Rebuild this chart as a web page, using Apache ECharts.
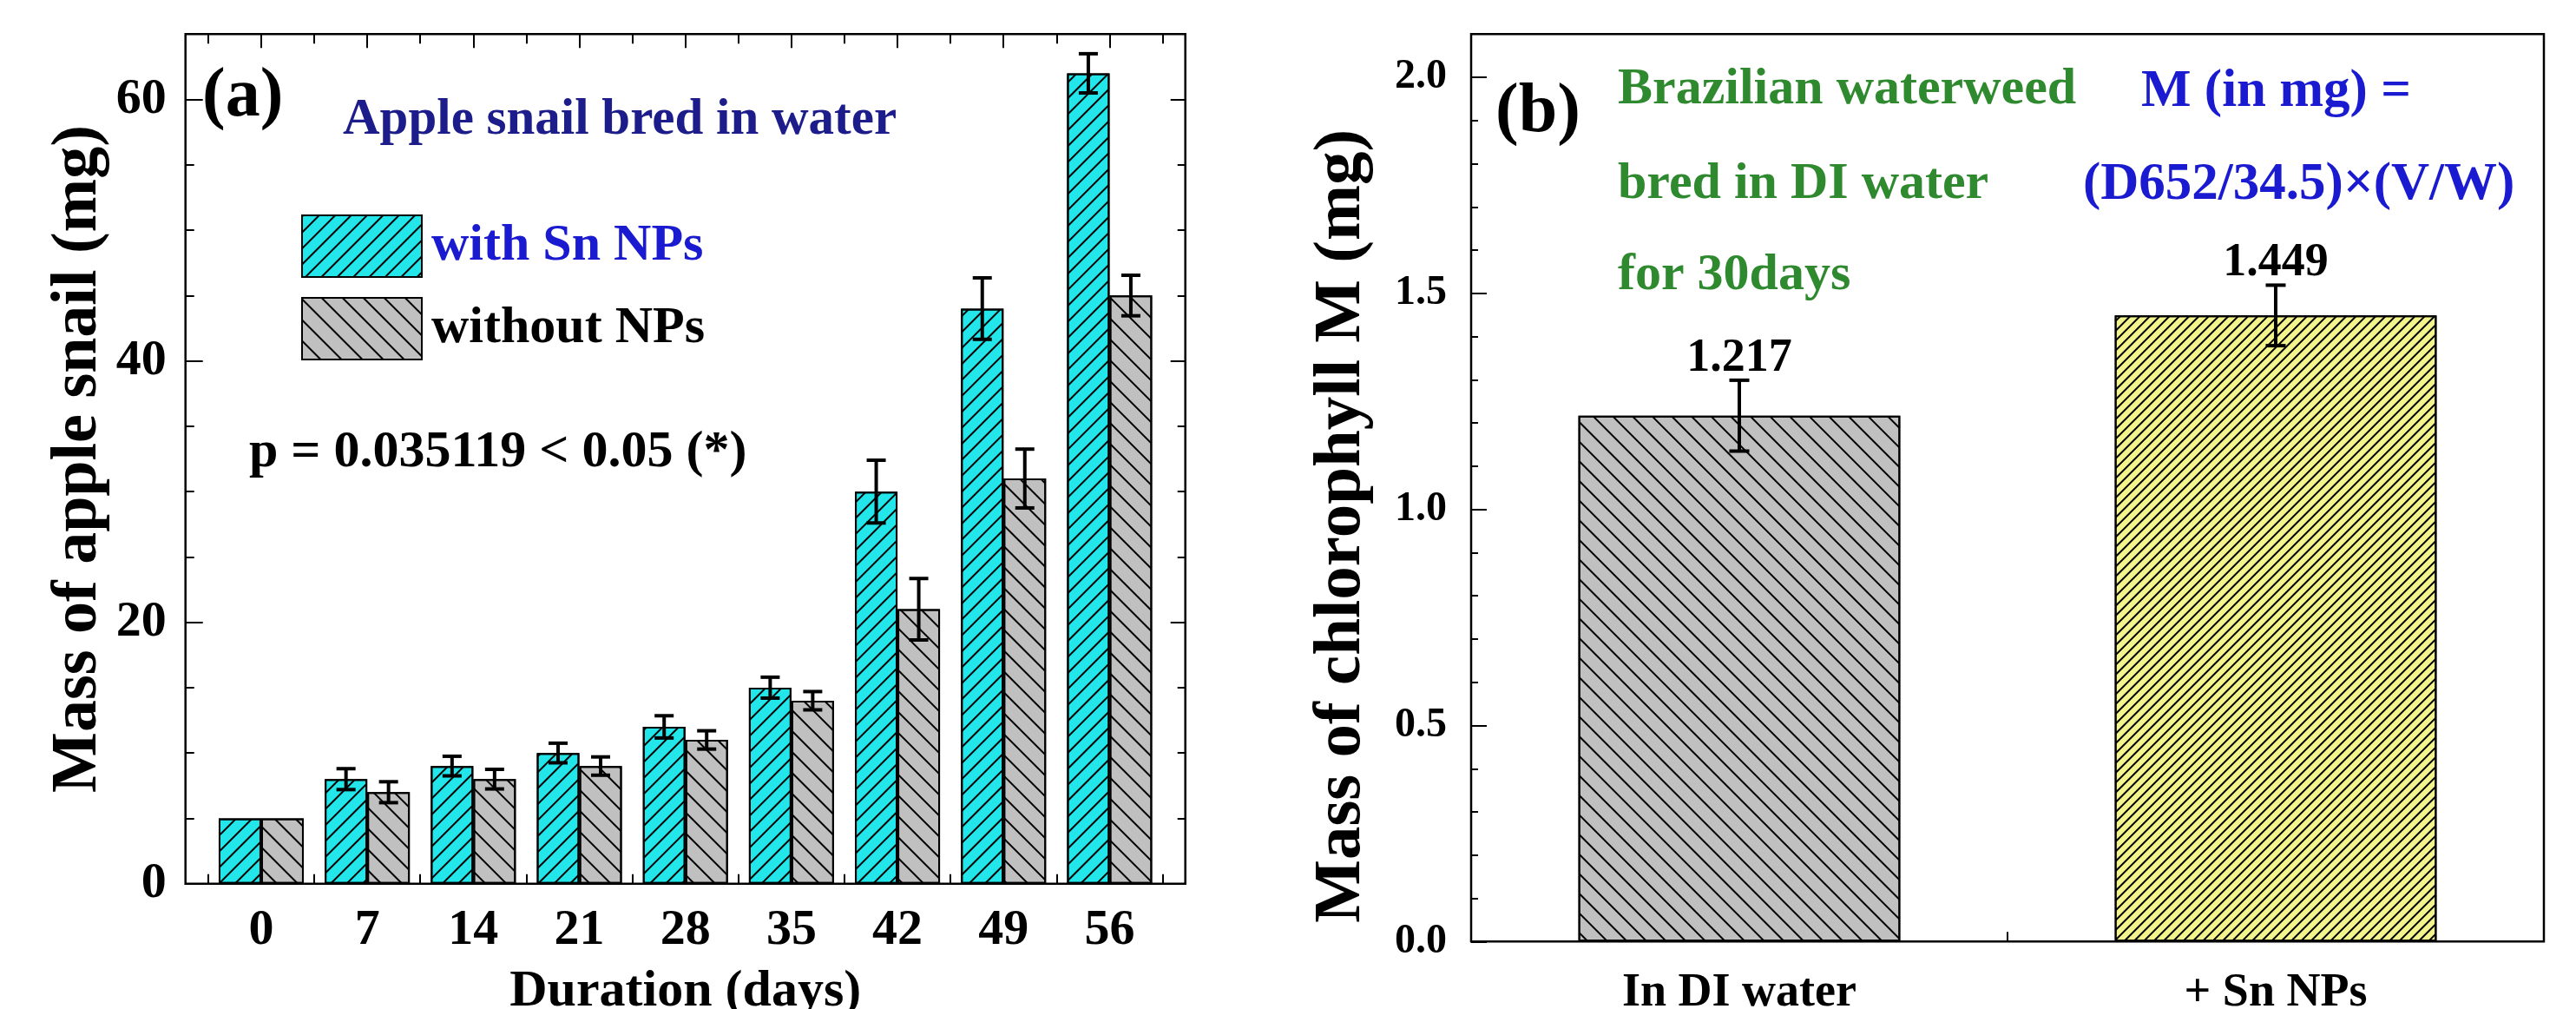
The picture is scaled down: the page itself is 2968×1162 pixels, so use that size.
<!DOCTYPE html>
<html><head><meta charset="utf-8">
<script src="https://cdn.jsdelivr.net/npm/echarts@6/dist/echarts.min.js"></script>
<style>html,body{margin:0;padding:0;background:#fff}#c{width:2968px;height:1162px}</style>
</head><body><div id="c"></div>
<script>
// ---------- data ----------
const days = [0, 7, 14, 21, 28, 35, 42, 49, 56];
const withSn = [5, 8, 9, 10, 12, 15, 30, 44, 62];
const withSnErr = [0, 0.8, 0.75, 0.75, 0.85, 0.8, 2.4, 2.35, 1.5];
const withoutNP = [5, 7, 8, 9, 11, 14, 21, 31, 45];
const withoutNPErr = [0, 0.8, 0.75, 0.7, 0.7, 0.7, 2.35, 2.25, 1.55];
const yTicksA = [0, 20, 40, 60];
const yMinorA = [5, 10, 15, 25, 30, 35, 45, 50, 55];
const xBoundA = [-3.5, 3.5, 10.5, 17.5, 24.5, 31.5, 38.5, 45.5, 52.5, 59.5];
const catsB = ['In DI water', '+ Sn NPs'];
const chlorophyll = [1.217, 1.449];
const chlorophyllErr = [0.082, 0.070];
const yTicksB = [0, 0.5, 1.0, 1.5, 2.0];
const yMinorB = [0.1,0.2,0.3,0.4,0.6,0.7,0.8,0.9,1.1,1.2,1.3,1.4,1.6,1.7,1.8,1.9];

// ---------- styles ----------
const F = '"Liberation Serif","Times New Roman",serif';
const BLK = '#000';
const CYAN = '#22e6ea', GRAY = '#c0c0c0', YELLOW = '#f4f48c';
const NAVY = '#1c1c8a', BLUE = '#1a1ad0', GREEN = '#2f8a2f';
const BAR_W = 49;
const tickLine = {color: BLK, width: 2};
const noLine = {show: false, onZero: false};

function hatch(dir, gap) {
  return {symbol: 'rect', symbolSize: 1, dashArrayX: [1, 0], dashArrayY: [2, gap],
          rotation: dir === '/' ? -Math.PI / 4 : Math.PI / 4, color: '#000'};
}

function tickAxis(o) {
  return Object.assign({axisLine: noLine, splitLine: {show: false},
    axisLabel: {show: false}}, o);
}

function errRender(offset, cap, withLabel) {
  return function (params, api) {
    const x = api.value(0), y = api.value(1), e = api.value(2);
    if (!e) return null;
    const top = api.coord([x, y + e]);
    const bot = api.coord([x, y - e]);
    const cx = top[0] + offset;
    const ls = {stroke: BLK, lineWidth: 4};
    const children = [
      {type: 'line', shape: {x1: cx, y1: top[1], x2: cx, y2: bot[1]}, style: ls},
      {type: 'line', shape: {x1: cx - cap / 2, y1: top[1], x2: cx + cap / 2, y2: top[1]}, style: ls},
      {type: 'line', shape: {x1: cx - cap / 2, y1: bot[1], x2: cx + cap / 2, y2: bot[1]}, style: ls}
    ];
    if (withLabel) {
      children.push({type: 'text', x: cx, y: top[1] + 2,
        style: {text: y.toFixed(3), fill: BLK, fontFamily: F, fontWeight: 'bold', fontSize: 54,
                align: 'center', verticalAlign: 'bottom'}});
    }
    return {type: 'group', children: children};
  };
}

const chart = echarts.init(document.getElementById('c'), null, {renderer: 'canvas'});
const option = {
  animation: false,
  backgroundColor: '#fff',
  grid: [
    {left: 213.7, top: 39.3, width: 1152, height: 978.4, containLabel: false, outerBoundsMode: 'none',
     show: true, borderColor: BLK, borderWidth: 2.5, backgroundColor: '#fff'},
    {left: 1695, top: 39.3, width: 1236, height: 1045, containLabel: false, outerBoundsMode: 'none',
     show: true, borderColor: BLK, borderWidth: 2.5, backgroundColor: '#fff'}
  ],
  legend: {
    left: 342, top: 242, orient: 'vertical', itemWidth: 138, itemHeight: 71, itemGap: 22,
    icon: 'rect', selectedMode: false,
    data: [{name: 'with Sn NPs', textStyle: {color: BLUE}}, {name: 'without NPs', textStyle: {color: BLK}}],
    textStyle: {fontFamily: F, fontWeight: 'bold', fontSize: 60, padding: [0, 0, 0, 6]}
  },
  xAxis: [
    {type: 'value', gridIndex: 0, position: 'bottom', min: -5, max: 61,
     axisLine: noLine, splitLine: {show: false},
     axisTick: {show: true, inside: true, length: 11, customValues: xBoundA, lineStyle: tickLine},
     axisLabel: {customValues: days, fontFamily: F, fontWeight: 'bold', fontSize: 58, color: BLK, margin: 25},
     name: 'Duration (days)', nameLocation: 'middle', nameGap: 95,
     nameTextStyle: {fontFamily: F, fontWeight: 'bold', fontSize: 60, color: BLK}},
    tickAxis({type: 'value', gridIndex: 0, position: 'top', min: -5, max: 61,
     axisTick: {show: true, inside: true, length: 16, customValues: days, lineStyle: tickLine}}),
    tickAxis({type: 'value', gridIndex: 0, position: 'top', min: -5, max: 61,
     axisTick: {show: true, inside: true, length: 11, customValues: xBoundA, lineStyle: tickLine}}),
    {type: 'category', gridIndex: 1, position: 'bottom', data: catsB,
     axisLine: noLine, splitLine: {show: false},
     axisTick: {show: true, inside: true, length: 11, lineStyle: tickLine},
     axisLabel: {fontFamily: F, fontWeight: 'bold', fontSize: 54, color: BLK, margin: 33}}
  ],
  yAxis: [
    {type: 'value', gridIndex: 0, position: 'left', min: 0, max: 65,
     axisLine: noLine, splitLine: {show: false},
     axisTick: {show: true, inside: true, length: 20, customValues: yTicksA, lineStyle: tickLine},
     axisLabel: {customValues: yTicksA, fontFamily: F, fontWeight: 'bold', fontSize: 58, color: BLK, margin: 22},
     name: 'Mass of apple snail (mg)', nameLocation: 'middle', nameGap: 86, nameRotate: 90,
     nameTextStyle: {fontFamily: F, fontWeight: 'bold', fontSize: 74, color: BLK}},
    tickAxis({type: 'value', gridIndex: 0, position: 'left', min: 0, max: 65,
     axisTick: {show: true, inside: true, length: 10, customValues: yMinorA, lineStyle: tickLine}}),
    tickAxis({type: 'value', gridIndex: 0, position: 'right', min: 0, max: 65,
     axisTick: {show: true, inside: true, length: 17, customValues: yTicksA, lineStyle: tickLine}}),
    tickAxis({type: 'value', gridIndex: 0, position: 'right', min: 0, max: 65,
     axisTick: {show: true, inside: true, length: 9, customValues: yMinorA, lineStyle: tickLine}}),
    {type: 'value', gridIndex: 1, position: 'left', min: 0, max: 2.1,
     axisLine: noLine, splitLine: {show: false},
     axisTick: {show: true, inside: true, length: 18, customValues: yTicksB, lineStyle: tickLine},
     axisLabel: {customValues: yTicksB, formatter: v => Number(v).toFixed(1), fontFamily: F, fontWeight: 'bold', fontSize: 48, color: BLK, margin: 28},
     name: 'Mass of chlorophyll M (mg)', nameLocation: 'middle', nameGap: 110, nameRotate: 90,
     nameTextStyle: {fontFamily: F, fontWeight: 'bold', fontSize: 77, color: BLK, padding: [0, 88, 0, 0]}},
    tickAxis({type: 'value', gridIndex: 1, position: 'left', min: 0, max: 2.1,
     axisTick: {show: true, inside: true, length: 8, customValues: yMinorB, lineStyle: tickLine}})
  ],
  series: [
    {name: 'with Sn NPs', type: 'bar', xAxisIndex: 0, yAxisIndex: 0, barWidth: BAR_W, barGap: '0%',
     data: days.map((d, i) => [d, withSn[i]]),
     itemStyle: {color: CYAN, borderColor: BLK, borderWidth: 2, decal: hatch('/', 11)}},
    {name: 'without NPs', type: 'bar', xAxisIndex: 0, yAxisIndex: 0, barWidth: BAR_W, barGap: '0%',
     data: days.map((d, i) => [d, withoutNP[i]]),
     itemStyle: {color: GRAY, borderColor: BLK, borderWidth: 2, decal: hatch('\\', 15)}},
    {name: 'err Sn', type: 'custom', xAxisIndex: 0, yAxisIndex: 0, z: 10,
     data: days.map((d, i) => [d, withSn[i], withSnErr[i]]),
     renderItem: errRender(-BAR_W / 2, 22, false)},
    {name: 'err without', type: 'custom', xAxisIndex: 0, yAxisIndex: 0, z: 10,
     data: days.map((d, i) => [d, withoutNP[i], withoutNPErr[i]]),
     renderItem: errRender(BAR_W / 2, 22, false)},
    {name: 'Chlorophyll', type: 'bar', xAxisIndex: 3, yAxisIndex: 4, barWidth: '60%',
     data: chlorophyll.map((v, i) => ({value: v, itemStyle: i === 0
       ? {color: GRAY, borderColor: BLK, borderWidth: 2, decal: hatch('\\', 14)}
       : {color: YELLOW, borderColor: BLK, borderWidth: 2, decal: hatch('/', 6)}}))},
    {name: 'err chl', type: 'custom', xAxisIndex: 3, yAxisIndex: 4, z: 10,
     data: catsB.map((c, i) => [i, chlorophyll[i], chlorophyllErr[i]]),
     renderItem: errRender(0, 23, true)}
  ],
  graphic: [
    {type: 'text', x: 233, y: 112, style: {text: '(a)', fill: BLK, fontFamily: F, fontWeight: 'bold', fontSize: 80, align: 'left', verticalAlign: 'middle'}},
    {type: 'text', x: 395, y: 139, style: {text: 'Apple snail bred in water', fill: NAVY, fontFamily: F, fontWeight: 'bold', fontSize: 59, align: 'left', verticalAlign: 'middle'}},
    {type: 'text', x: 287, y: 521, style: {text: 'p = 0.035119 < 0.05 (*)', fill: BLK, fontFamily: F, fontWeight: 'bold', fontSize: 60, align: 'left', verticalAlign: 'middle'}},
    {type: 'text', x: 1723, y: 130, style: {text: '(b)', fill: BLK, fontFamily: F, fontWeight: 'bold', fontSize: 80, align: 'left', verticalAlign: 'middle'}},
    {type: 'text', x: 1864, y: 103, style: {text: 'Brazilian waterweed', fill: GREEN, fontFamily: F, fontWeight: 'bold', fontSize: 60, align: 'left', verticalAlign: 'middle'}},
    {type: 'text', x: 1864, y: 212, style: {text: 'bred in DI water', fill: GREEN, fontFamily: F, fontWeight: 'bold', fontSize: 60, align: 'left', verticalAlign: 'middle'}},
    {type: 'text', x: 1864, y: 317, style: {text: 'for 30days', fill: GREEN, fontFamily: F, fontWeight: 'bold', fontSize: 60, align: 'left', verticalAlign: 'middle'}},
    {type: 'text', x: 2467, y: 106, style: {text: 'M (in mg) =', fill: BLUE, fontFamily: F, fontWeight: 'bold', fontSize: 61, align: 'left', verticalAlign: 'middle'}},
    {type: 'text', x: 2400, y: 213, style: {text: '(D652/34.5)\u00d7(V/W)', fill: BLUE, fontFamily: F, fontWeight: 'bold', fontSize: 61, align: 'left', verticalAlign: 'middle'}}
  ]
};
chart.setOption(option);
</script>
</body></html>
